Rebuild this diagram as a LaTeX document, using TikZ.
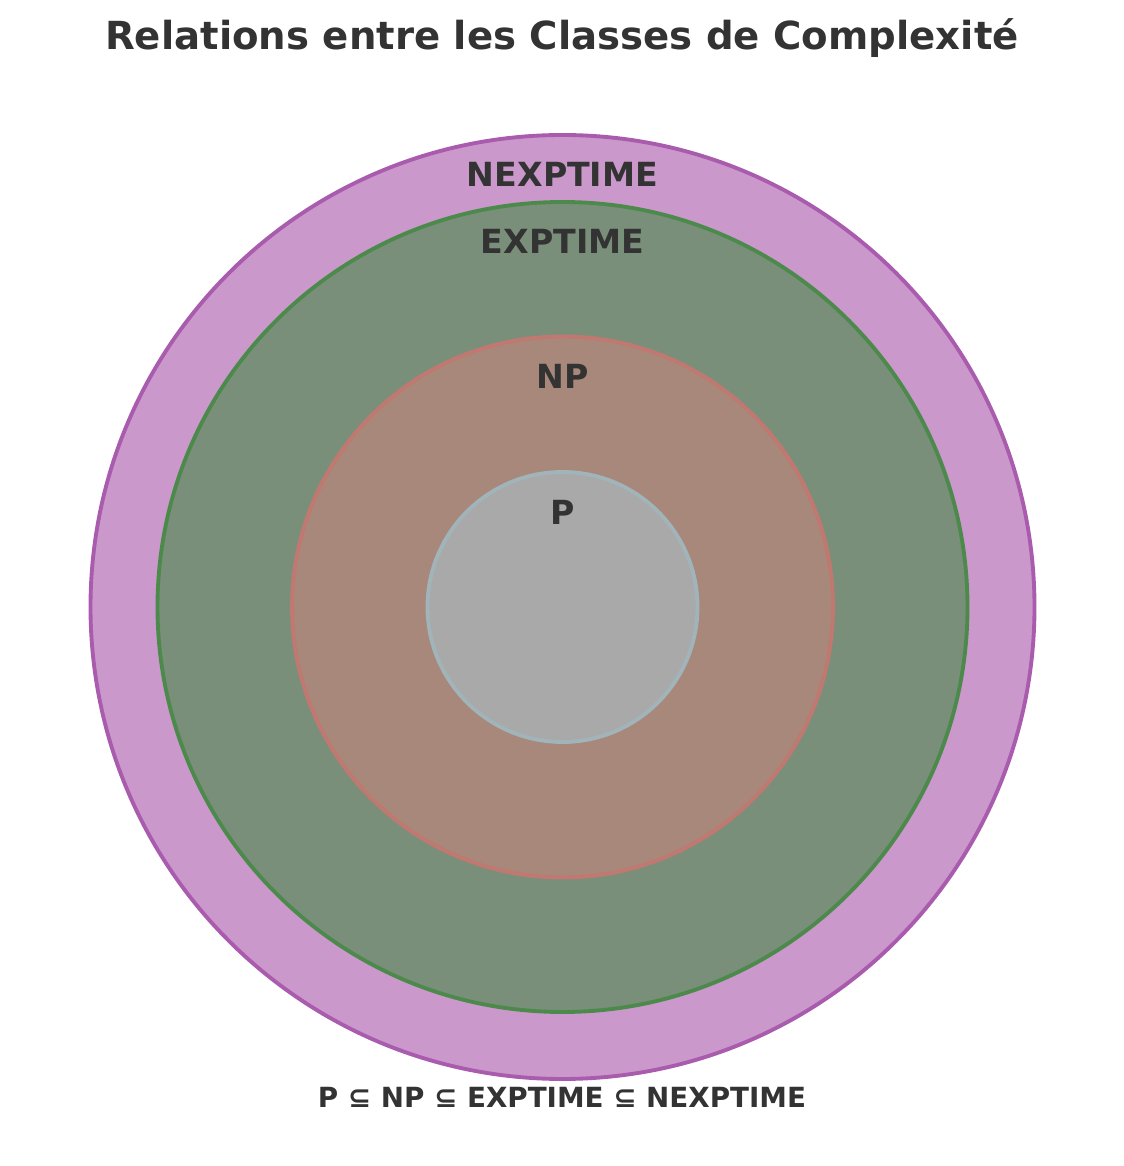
\documentclass[tikz,border=0pt]{standalone}
\usepackage{fontspec}
\setmainfont{DejaVu Sans}
\usetikzlibrary{positioning}
\definecolor{cnexp}{HTML}{CA98CA}
\definecolor{cnexpline}{HTML}{A95BAE}
\definecolor{cexp}{HTML}{7A8F7A}
\definecolor{cexpline}{HTML}{4C8A4C}
\definecolor{cnp}{HTML}{A8887A}
\definecolor{cnpline}{HTML}{C07870}
\definecolor{cp}{HTML}{A9A9A9}
\definecolor{cpline}{HTML}{A0B4BA}
\definecolor{ctext}{HTML}{333333}
\tikzset{
  every picture/.style={font=\bfseries, text=ctext},
  ring/.style={circle, draw=#1line, fill=#1, line width=1.1pt, inner sep=0pt},
  label/.style={font=\fontsize{9.45}{11}\selectfont\bfseries, text=ctext, inner sep=0pt},
  title/.style={font=\fontsize{11}{13}\selectfont\bfseries, text=ctext},
  note/.style={font=\fontsize{7.9}{9}\selectfont\bfseries, text=ctext},
}
\begin{document}
\begin{tikzpicture}
  \useasboundingbox (0,0) rectangle (11.24,11.66);
  \coordinate (c) at (5.625,5.59);
  \node[ring=cnexp, minimum size=9.44cm] (nexp) at (c) {};
  \node[ring=cexp,  minimum size=8.10cm] (exp)  at (c) {};
  \node[ring=cnp,   minimum size=5.41cm] (np)   at (c) {};
  \node[ring=cp,    minimum size=2.70cm] (p)    at (c) {};
  \node[label] (nexplbl) at ([yshift=-0.41cm]nexp.north) {NEXPTIME};
  \node[label] (explbl)  at ([yshift=-0.41cm]exp.north)  {EXPTIME};
  \node[label] (nplbl)   at ([yshift=-0.42cm]np.north)   {NP};
  \node[label] (plbl)    at ([yshift=-0.42cm]p.north)    {P};
  \node[title] (ttl) at (5.62,11.28) {Relations entre les Classes de Complexité};
  \node[note] (incl) at (5.62,0.69) {P ⊆ NP ⊆ EXPTIME ⊆ NEXPTIME};
\end{tikzpicture}
\end{document}
